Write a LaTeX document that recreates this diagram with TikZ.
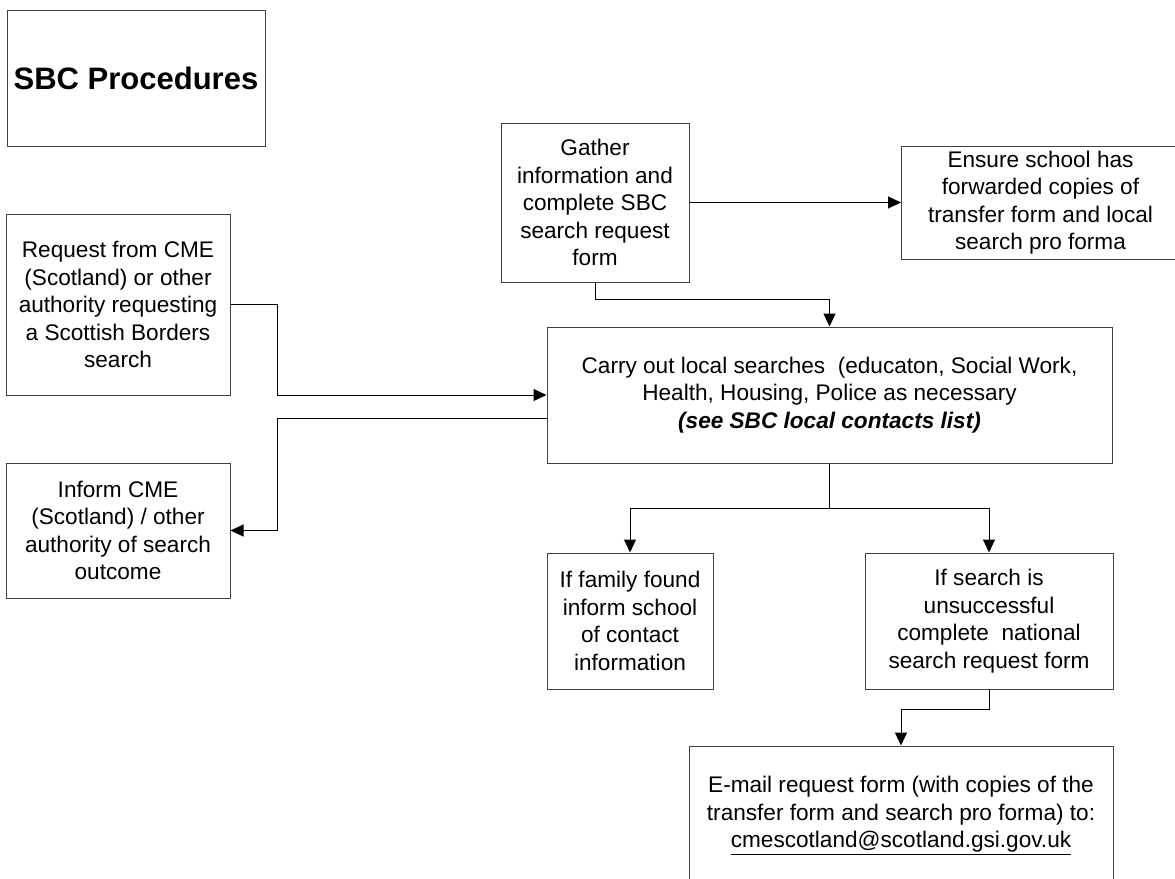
\documentclass[tikz,border=0pt]{standalone}
\usepackage{fontspec}
\setmainfont{Liberation Sans}
\usetikzlibrary{arrows.meta}

\tikzset{
  box/.style={draw=black!75, line width=1pt, align=center, inner sep=2pt,
    font={\fontsize{22.6}{27.5}\selectfont}},
  conn/.style={draw=black, line width=1pt},
  arr/.style={conn, -{Triangle[length=13pt, width=12pt]}}
}

\begin{document}
\begin{tikzpicture}[x=1pt, y=-1pt]
    \useasboundingbox (0,0) rectangle (1175,878);
    % Title
    \node[box, minimum width=258, minimum height=136,
          font={\bfseries\fontsize{31}{37}\selectfont}] (title) at (136,78) {SBC Procedures};
    % Left column: incoming request and reply
    \node[box, minimum width=224, minimum height=181] (req) at (118,304.5)
        {Request from CME\\(Scotland) or other\\authority requesting\\a Scottish Borders\\search};
    \node[box, minimum width=224, minimum height=135] (inform) at (118,530.5)
        {Inform CME\\(Scotland) / other\\authority of search\\outcome};
    % Top row
    \node[box, minimum width=188, minimum height=159] (gather) at (595,202.5)
        {Gather\\information and\\complete SBC\\search request\\form};
    \node[box, minimum width=278, minimum height=113, anchor=west] (ensure) at (901,202.5)
        {Ensure school has\\forwarded copies of\\transfer form and local\\search pro forma};
    % Local searches
    \node[box, minimum width=565, minimum height=136] (carry) at (829.5,395)
        {Carry out local searches~ (educaton, Social Work,\\Health, Housing, Police as necessary\\\textbf{\textit{(see SBC local contacts list)}}};
    % Outcomes
    \node[box, minimum width=166, minimum height=136] (family) at (630,621)
        {If family found\\inform school\\of contact\\information};
    \node[box, minimum width=248, minimum height=136] (unsucc) at (989,621)
        {If search is\\unsuccessful\\complete~ national\\search request form};
    \node[box, minimum width=424, minimum height=139] (email) at (901,815.5)
        {E-mail request form (with copies of the\\transfer form and search pro forma) to:\\\underline{cmescotland@scotland.gsi.gov.uk}};
    % Connectors
    \draw[arr] (req.east) -- (277,304.5) -- (277,395) -- (carry.west |- 0,395);
    \draw[arr] (carry.west |- 0,418) -- (277,418) -- (277,530.5) -- (inform.east);
    \draw[arr] (gather.east) -- (ensure.west);
    \draw[arr] (gather.south) -- ++(0,17) -| (carry.north);
    \draw[conn] (carry.south) -- ++(0,45) coordinate (split);
    \draw[arr] (split) -| (family.north);
    \draw[arr] (split) -| (unsucc.north);
    \draw[arr] (unsucc.south) -- ++(0,20) -| (email.north);
\end{tikzpicture}
\end{document}
